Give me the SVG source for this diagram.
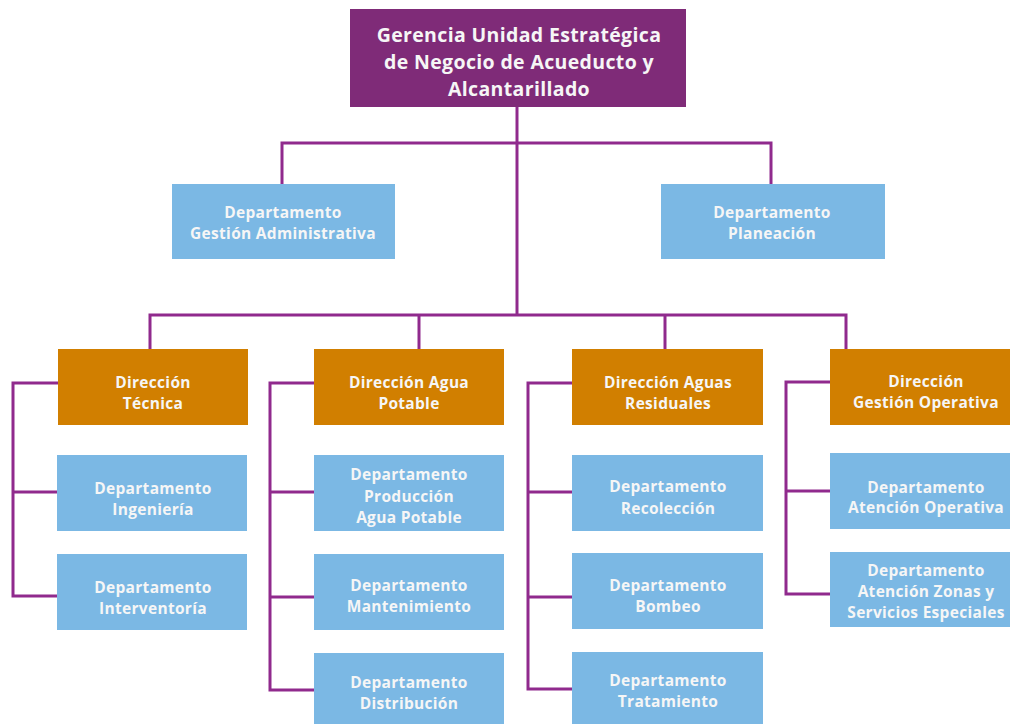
<svg xmlns="http://www.w3.org/2000/svg" width="1010" height="724" viewBox="0 0 1010 724">
  <style>
    .lbl { font-family: "Open Sans", "Liberation Sans", sans-serif; font-weight: 700; font-size: 15.5px; letter-spacing: 0.3px; fill: #f6f6f6; text-anchor: middle; }
    .title { font-size: 19.5px; letter-spacing: 0.35px; }
    .top { fill: #7f2b78; }
    .dir { fill: #d17f00; }
    .dept { fill: #7bb8e4; }
    .wire { fill: none; stroke: #902a8d; stroke-width: 3; stroke-linejoin: miter; }
  </style>
  <rect width="1010" height="724" fill="#ffffff"/>

  <!-- connectors -->
  <g id="connectors" class="wire">
    <path d="M517 107 V315"/>
    <path d="M282 184 V143 H771 V184"/>
    <path d="M150 349 V315 H846 V349"/>
    <path d="M419 315 V349"/>
    <path d="M665 315 V349"/>
    <!-- Dirección Técnica -->
    <path d="M58 383 H13 V596 H57"/>
    <path d="M13 492 H57"/>
    <!-- Dirección Agua Potable -->
    <path d="M314 383 H270 V690 H314"/>
    <path d="M270 492 H314"/>
    <path d="M270 597 H314"/>
    <!-- Dirección Aguas Residuales -->
    <path d="M572 383 H528 V689 H572"/>
    <path d="M528 492 H572"/>
    <path d="M528 597 H572"/>
    <!-- Dirección Gestión Operativa -->
    <path d="M830 382 H786 V594 H830"/>
    <path d="M786 491 H830"/>
  </g>

  <g id="gerencia">
    <rect class="top" x="350" y="9" width="336" height="98"/>
    <text class="lbl title" x="519" y="42">Gerencia Unidad Estratégica</text>
    <text class="lbl title" x="519" y="69">de Negocio de Acueducto y</text>
    <text class="lbl title" x="519" y="96">Alcantarillado</text>
  </g>

  <g id="dep-gestion-administrativa">
    <rect class="dept" x="172" y="184" width="223" height="75"/>
    <text class="lbl" x="283" y="218">Departamento</text>
    <text class="lbl" x="283" y="239">Gestión Administrativa</text>
  </g>
  <g id="dep-planeacion">
    <rect class="dept" x="661" y="184" width="224" height="75"/>
    <text class="lbl" x="772" y="218">Departamento</text>
    <text class="lbl" x="772" y="239">Planeación</text>
  </g>

  <g id="dir-tecnica">
    <rect class="dir" x="58" y="349" width="190" height="76"/>
    <text class="lbl" x="153" y="388">Dirección</text>
    <text class="lbl" x="153" y="409">Técnica</text>
  </g>
  <g id="dir-agua-potable">
    <rect class="dir" x="314" y="349" width="190" height="76"/>
    <text class="lbl" x="409" y="388">Dirección Agua</text>
    <text class="lbl" x="409" y="409">Potable</text>
  </g>
  <g id="dir-aguas-residuales">
    <rect class="dir" x="572" y="349" width="191" height="76"/>
    <text class="lbl" x="668" y="388">Dirección Aguas</text>
    <text class="lbl" x="668" y="409">Residuales</text>
  </g>
  <g id="dir-gestion-operativa">
    <rect class="dir" x="830" y="349" width="182" height="76"/>
    <text class="lbl" x="926" y="387">Dirección</text>
    <text class="lbl" x="926" y="408">Gestión Operativa</text>
  </g>

  <g id="dep-ingenieria">
    <rect class="dept" x="57" y="455" width="190" height="76"/>
    <text class="lbl" x="153" y="494">Departamento</text>
    <text class="lbl" x="153" y="515">Ingeniería</text>
  </g>
  <g id="dep-interventoria">
    <rect class="dept" x="57" y="554" width="190" height="76"/>
    <text class="lbl" x="153" y="593">Departamento</text>
    <text class="lbl" x="153" y="614">Interventoría</text>
  </g>

  <g id="dep-produccion">
    <rect class="dept" x="314" y="455" width="190" height="76"/>
    <text class="lbl" x="409" y="480">Departamento</text>
    <text class="lbl" x="409" y="502">Producción</text>
    <text class="lbl" x="409" y="523">Agua Potable</text>
  </g>
  <g id="dep-mantenimiento">
    <rect class="dept" x="314" y="554" width="190" height="76"/>
    <text class="lbl" x="409" y="591">Departamento</text>
    <text class="lbl" x="409" y="612">Mantenimiento</text>
  </g>
  <g id="dep-distribucion">
    <rect class="dept" x="314" y="653" width="190" height="76"/>
    <text class="lbl" x="409" y="688">Departamento</text>
    <text class="lbl" x="409" y="709">Distribución</text>
  </g>

  <g id="dep-recoleccion">
    <rect class="dept" x="572" y="455" width="191" height="76"/>
    <text class="lbl" x="668" y="492">Departamento</text>
    <text class="lbl" x="668" y="514">Recolección</text>
  </g>
  <g id="dep-bombeo">
    <rect class="dept" x="572" y="553" width="191" height="76"/>
    <text class="lbl" x="668" y="591">Departamento</text>
    <text class="lbl" x="668" y="612">Bombeo</text>
  </g>
  <g id="dep-tratamiento">
    <rect class="dept" x="572" y="652" width="191" height="76"/>
    <text class="lbl" x="668" y="686">Departamento</text>
    <text class="lbl" x="668" y="707">Tratamiento</text>
  </g>

  <g id="dep-atencion-operativa">
    <rect class="dept" x="830" y="453" width="182" height="76"/>
    <text class="lbl" x="926" y="493">Departamento</text>
    <text class="lbl" x="926" y="513">Atención Operativa</text>
  </g>
  <g id="dep-atencion-zonas">
    <rect class="dept" x="830" y="552" width="182" height="75"/>
    <text class="lbl" x="926" y="576">Departamento</text>
    <text class="lbl" x="926" y="597">Atención Zonas y</text>
    <text class="lbl" x="926" y="618">Servicios Especiales</text>
  </g>
</svg>
